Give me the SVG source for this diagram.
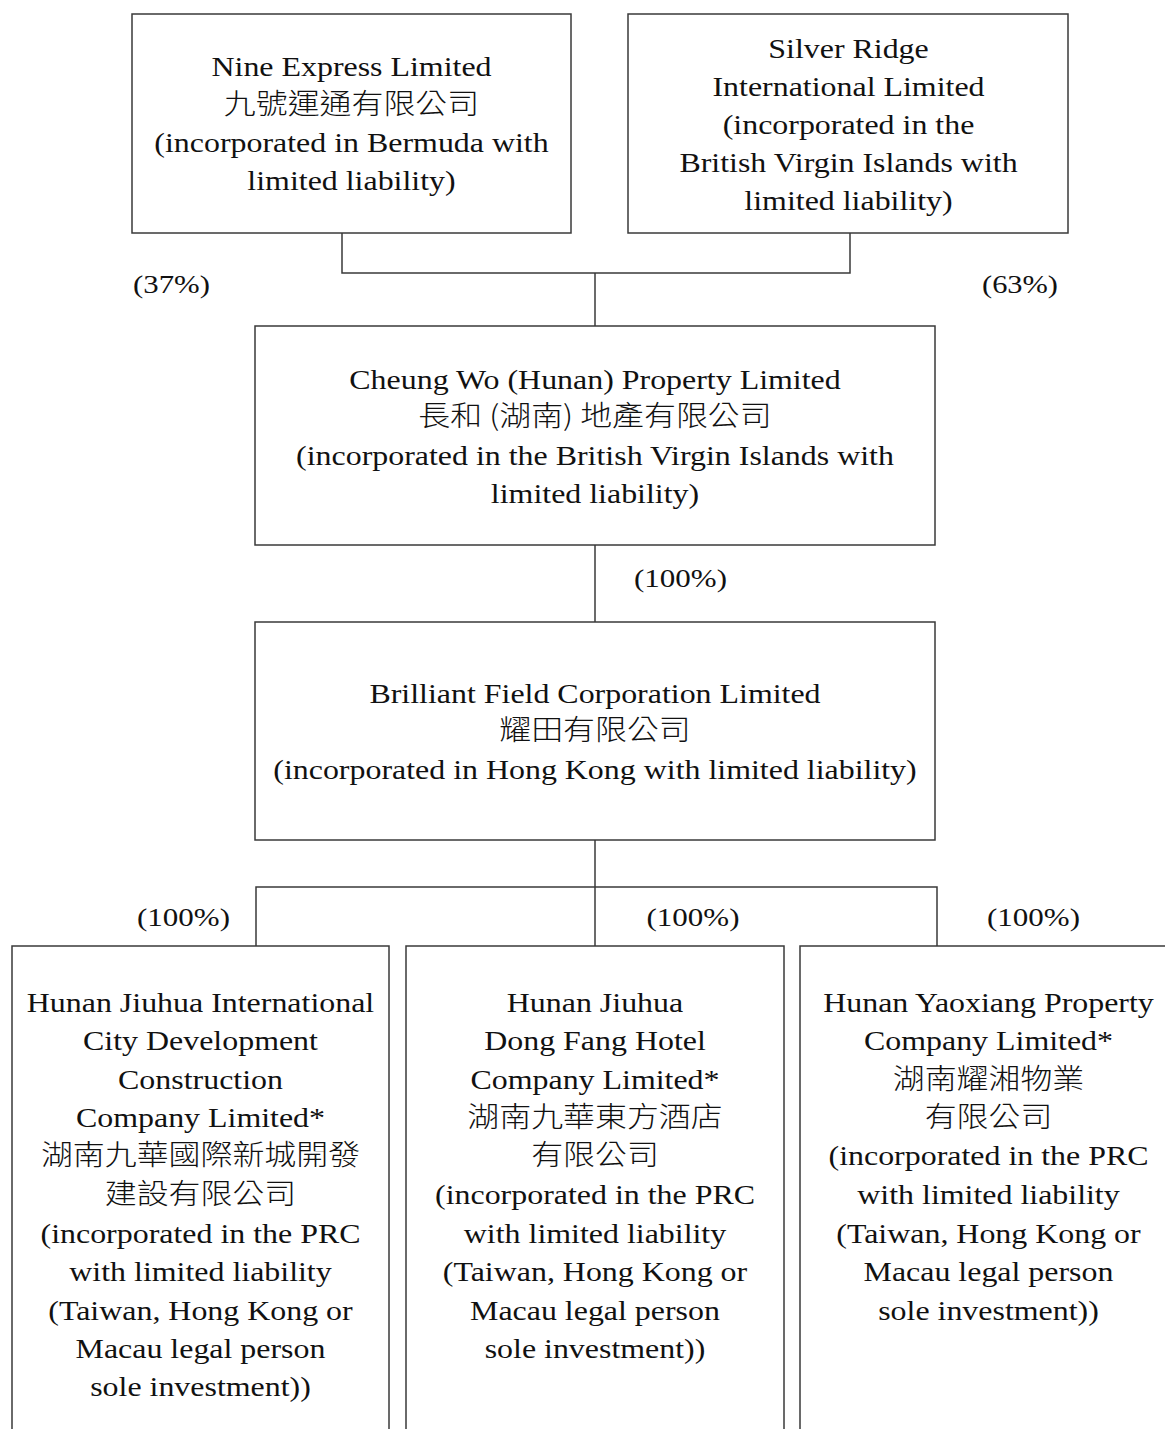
<svg xmlns="http://www.w3.org/2000/svg" width="1165" height="1429" viewBox="0 0 1165 1429">
<style>
.box{fill:#fff;stroke:#3a3a3a;stroke-width:1.5}
.conn{fill:none;stroke:#3a3a3a;stroke-width:1.5}
text{font-family:"Liberation Serif","Noto Sans CJK TC",serif;font-size:28px;text-anchor:middle;fill:#111}
.cjk{font-family:"Noto Sans CJK TC","Liberation Serif",sans-serif;font-weight:300}
.lbl{font-size:26px}
</style>
<rect width="1165" height="1429" fill="#fff"/>
<g id="connectors">
<path class="conn" d="M342,233 V273 H850 V233"/>
<path class="conn" d="M595,273 V326"/>
<path class="conn" d="M595,545 V622"/>
<path class="conn" d="M595,840 V887"/>
<path class="conn" d="M256,946 V887 H937 V946"/>
<path class="conn" d="M595,887 V946"/>
</g>
<g id="labels">
<text class="lbl" x="171.5" y="293" textLength="77" lengthAdjust="spacingAndGlyphs">(37%)</text>
<text class="lbl" x="1020" y="293" textLength="76" lengthAdjust="spacingAndGlyphs">(63%)</text>
<text class="lbl" x="680.5" y="587" textLength="93" lengthAdjust="spacingAndGlyphs">(100%)</text>
<text class="lbl" x="183.5" y="926" textLength="93" lengthAdjust="spacingAndGlyphs">(100%)</text>
<text class="lbl" x="693" y="926" textLength="93" lengthAdjust="spacingAndGlyphs">(100%)</text>
<text class="lbl" x="1033.5" y="926" textLength="93" lengthAdjust="spacingAndGlyphs">(100%)</text>
</g>
<g id="nine-express">
<rect class="box" x="132" y="14" width="439" height="219"/>
<g transform="translate(351.5,0) scale(1.14,1)">
<text x="0" y="76">Nine Express Limited</text>
<text class="cjk" x="0" y="114">九號運通有限公司</text>
<text x="0" y="152">(incorporated in Bermuda with</text>
<text x="0" y="190">limited liability)</text>
</g>
</g>
<g id="silver-ridge">
<rect class="box" x="628" y="14" width="440" height="219"/>
<g transform="translate(848.5,0) scale(1.14,1)">
<text x="0" y="58">Silver Ridge</text>
<text x="0" y="96">International Limited</text>
<text x="0" y="134">(incorporated in the</text>
<text x="0" y="172">British Virgin Islands with</text>
<text x="0" y="210">limited liability)</text>
</g>
</g>
<g id="cheung-wo">
<rect class="box" x="255" y="326" width="680" height="219"/>
<g transform="translate(595,0) scale(1.14,1)">
<text x="0" y="389">Cheung Wo (Hunan) Property Limited</text>
<text class="cjk" x="0" y="426">長和 (湖南) 地產有限公司</text>
<text x="0" y="465">(incorporated in the British Virgin Islands with</text>
<text x="0" y="503">limited liability)</text>
</g>
</g>
<g id="brilliant-field">
<rect class="box" x="255" y="622" width="680" height="218"/>
<g transform="translate(595,0) scale(1.14,1)">
<text x="0" y="703">Brilliant Field Corporation Limited</text>
<text class="cjk" x="0" y="740">耀田有限公司</text>
<text x="0" y="779">(incorporated in Hong Kong with limited liability)</text>
</g>
</g>
<g id="hunan-jiuhua-intl">
<rect class="box" x="12" y="946" width="377" height="500"/>
<g transform="translate(200.5,0) scale(1.14,1)">
<text x="0" y="1012">Hunan Jiuhua International</text>
<text x="0" y="1050">City Development</text>
<text x="0" y="1089">Construction</text>
<text x="0" y="1127">Company Limited*</text>
<text class="cjk" x="0" y="1165">湖南九華國際新城開發</text>
<text class="cjk" x="0" y="1204">建設有限公司</text>
<text x="0" y="1243">(incorporated in the PRC</text>
<text x="0" y="1281">with limited liability</text>
<text x="0" y="1320">(Taiwan, Hong Kong or</text>
<text x="0" y="1358">Macau legal person</text>
<text x="0" y="1396">sole investment))</text>
</g>
</g>
<g id="hunan-jiuhua-hotel">
<rect class="box" x="406" y="946" width="378" height="500"/>
<g transform="translate(595,0) scale(1.14,1)">
<text x="0" y="1012">Hunan Jiuhua</text>
<text x="0" y="1050">Dong Fang Hotel</text>
<text x="0" y="1089">Company Limited*</text>
<text class="cjk" x="0" y="1127">湖南九華東方酒店</text>
<text class="cjk" x="0" y="1165">有限公司</text>
<text x="0" y="1204">(incorporated in the PRC</text>
<text x="0" y="1243">with limited liability</text>
<text x="0" y="1281">(Taiwan, Hong Kong or</text>
<text x="0" y="1320">Macau legal person</text>
<text x="0" y="1358">sole investment))</text>
</g>
</g>
<g id="hunan-yaoxiang">
<rect class="box" x="800" y="946" width="380" height="500"/>
<g transform="translate(988.5,0) scale(1.14,1)">
<text x="0" y="1012">Hunan Yaoxiang Property</text>
<text x="0" y="1050">Company Limited*</text>
<text class="cjk" x="0" y="1089">湖南耀湘物業</text>
<text class="cjk" x="0" y="1127">有限公司</text>
<text x="0" y="1165">(incorporated in the PRC</text>
<text x="0" y="1204">with limited liability</text>
<text x="0" y="1243">(Taiwan, Hong Kong or</text>
<text x="0" y="1281">Macau legal person</text>
<text x="0" y="1320">sole investment))</text>
</g>
</g>
</svg>
